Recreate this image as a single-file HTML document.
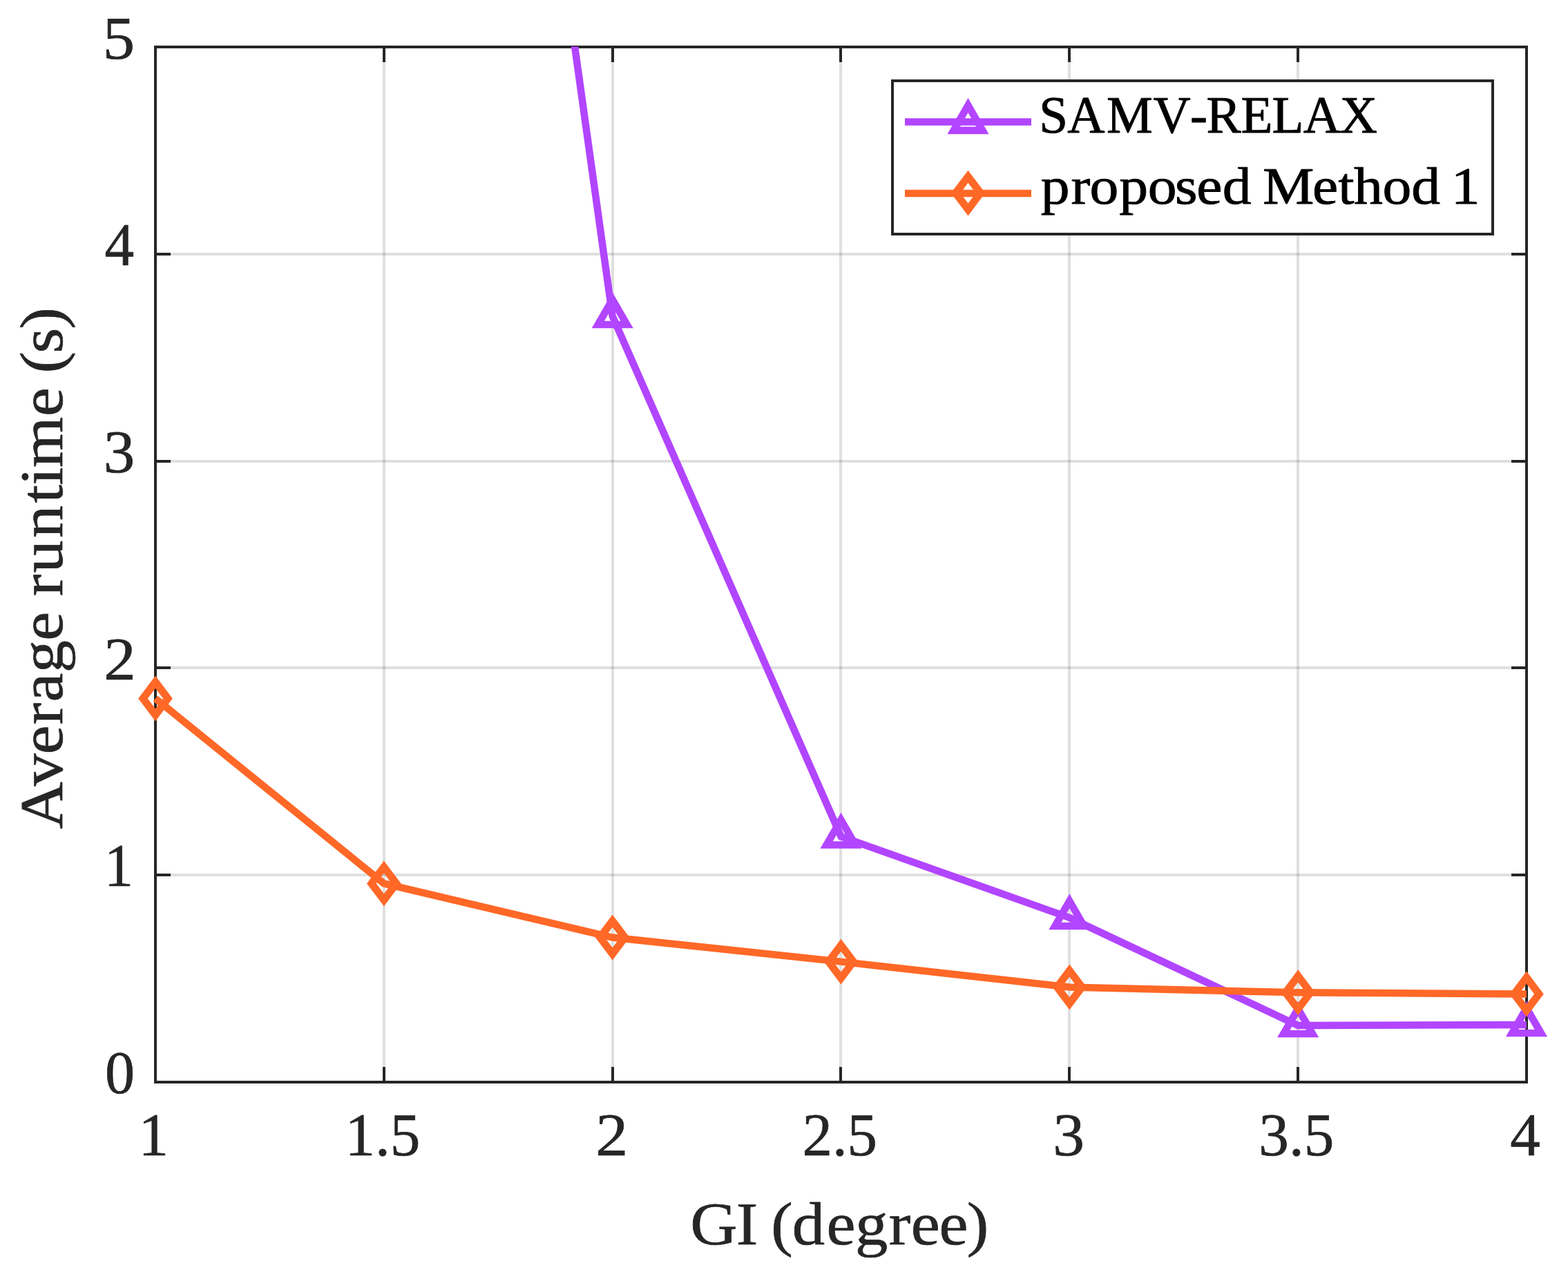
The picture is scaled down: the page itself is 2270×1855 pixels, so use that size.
<!DOCTYPE html>
<html lang="en"><head><meta charset="utf-8"><title>Average runtime vs GI</title>
<style>html,body{margin:0;padding:0;background:#fff}body{width:2270px;height:1855px;overflow:hidden}svg{display:block}</style></head>
<body>
<svg width="2270" height="1855" viewBox="0 0 2270 1855" style="display:block">
<rect width="2270" height="1855" fill="#fff"/>
<g fill="#262626" fill-opacity="0.15" shape-rendering="crispEdges">
<rect x="554" y="68" width="4" height="1499"/>
<rect x="885" y="68" width="4" height="1499"/>
<rect x="1215" y="68" width="4" height="1499"/>
<rect x="1546" y="68" width="4" height="1499"/>
<rect x="1877" y="68" width="4" height="1499"/>
<rect x="225" y="366" width="1985" height="4"/>
<rect x="225" y="666" width="1985" height="4"/>
<rect x="225" y="965" width="1985" height="4"/>
<rect x="225" y="1265" width="1985" height="4"/>
</g>
<g fill="#262626" shape-rendering="crispEdges">
<rect x="223" y="66" width="1989" height="4"/>
<rect x="223" y="1565" width="1989" height="4"/>
<rect x="223" y="66" width="4" height="1503"/>
<rect x="2208" y="66" width="4" height="1503"/>
<rect x="554" y="1545" width="4" height="22"/>
<rect x="554" y="68" width="4" height="22"/>
<rect x="885" y="1545" width="4" height="22"/>
<rect x="885" y="68" width="4" height="22"/>
<rect x="1215" y="1545" width="4" height="22"/>
<rect x="1215" y="68" width="4" height="22"/>
<rect x="1546" y="1545" width="4" height="22"/>
<rect x="1546" y="68" width="4" height="22"/>
<rect x="1877" y="1545" width="4" height="22"/>
<rect x="1877" y="68" width="4" height="22"/>
<rect x="225" y="366" width="22" height="4"/>
<rect x="2188" y="366" width="22" height="4"/>
<rect x="225" y="666" width="22" height="4"/>
<rect x="2188" y="666" width="22" height="4"/>
<rect x="225" y="965" width="22" height="4"/>
<rect x="2188" y="965" width="22" height="4"/>
<rect x="225" y="1265" width="22" height="4"/>
<rect x="2188" y="1265" width="22" height="4"/>
</g>
<defs><clipPath id="cp"><rect x="0" y="67.5" width="2270" height="1800"/></clipPath></defs>
<g fill="none" stroke="#B245FF" stroke-linejoin="miter" stroke-miterlimit="10" stroke-linecap="butt">
<polyline stroke-width="10.5" points="817.06,-40.00 886.67,457.90 1217.50,1211.40 1548.33,1328.90 1879.17,1484.90 2210.00,1484.00" clip-path="url(#cp)"/>
<path stroke-width="10.6" d="M886.67 433.80L907.54 469.95L865.80 469.95Z M1217.50 1187.30L1238.37 1223.45L1196.63 1223.45Z M1548.33 1304.80L1569.20 1340.95L1527.46 1340.95Z M1879.17 1460.80L1900.04 1496.95L1858.30 1496.95Z M2210.00 1459.90L2230.87 1496.05L2189.13 1496.05Z"/>
</g>
<g fill="none" stroke="#FF6827" stroke-linejoin="miter" stroke-miterlimit="10" stroke-linecap="butt">
<polyline stroke-width="10.5" points="225.00,1011.50 555.83,1279.40 886.67,1357.50 1217.50,1392.60 1548.33,1429.40 1879.17,1437.30 2210.00,1439.40"/>
<path stroke-width="10.9" d="M225.00 987.60L243.00 1011.50L225.00 1035.40L207.00 1011.50Z M555.83 1255.50L573.83 1279.40L555.83 1303.30L537.83 1279.40Z M886.67 1333.60L904.67 1357.50L886.67 1381.40L868.67 1357.50Z M1217.50 1368.70L1235.50 1392.60L1217.50 1416.50L1199.50 1392.60Z M1548.33 1405.50L1566.33 1429.40L1548.33 1453.30L1530.33 1429.40Z M1879.17 1413.40L1897.17 1437.30L1879.17 1461.20L1861.17 1437.30Z M2210.00 1415.50L2228.00 1439.40L2210.00 1463.30L2192.00 1439.40Z"/>
</g>
<rect x="1292" y="117" width="869" height="222" fill="#fff" stroke="#262626" stroke-width="4" shape-rendering="crispEdges"/>
<g fill="none" stroke="#B245FF" stroke-miterlimit="10"><path stroke-width="10.5" d="M1310 176.5H1493"/><path stroke-width="10.6" d="M1401.50 152.70L1422.37 188.85L1380.63 188.85Z"/></g>
<g fill="none" stroke="#FF6827" stroke-miterlimit="10"><path stroke-width="10.5" d="M1310 280H1493"/><path stroke-width="10.9" d="M1401.50 255.70L1419.50 279.60L1401.50 303.50L1383.50 279.60Z"/></g>
<g font-family="'Liberation Serif', serif" text-rendering="geometricPrecision">
<text transform="matrix(0.92687 0 0 0.88000 148.74 85)" font-size="100" fill="#262626" stroke="#262626" stroke-width="0.795" stroke-linejoin="round">5</text>
<text transform="matrix(0.85316 0 0 0.88000 151.43 384)" font-size="100" fill="#262626" stroke="#262626" stroke-width="0.795" stroke-linejoin="round">4</text>
<text transform="matrix(0.90877 0 0 0.88000 149.87 684)" font-size="100" fill="#262626" stroke="#262626" stroke-width="0.795" stroke-linejoin="round">3</text>
<text transform="matrix(0.93013 0 0 0.88000 150.16 984)" font-size="100" fill="#262626" stroke="#262626" stroke-width="0.795" stroke-linejoin="round">2</text>
<text transform="matrix(0.83811 0 0 0.88000 150.88 1283)" font-size="100" fill="#262626" stroke="#262626" stroke-width="0.795" stroke-linejoin="round">1</text>
<text transform="matrix(0.86141 0 0 0.88000 151.96 1583)" font-size="100" fill="#262626" stroke="#262626" stroke-width="0.795" stroke-linejoin="round">0</text>
<text transform="matrix(0.87221 0 0 0.88000 200.48 1673)" font-size="100" fill="#262626" stroke="#262626" stroke-width="0.795" stroke-linejoin="round">1</text>
<text transform="matrix(0.87274 0 0 0.88000 499.38 1673)" font-size="100" fill="#262626" stroke="#262626" stroke-width="0.795" stroke-linejoin="round">1.5</text>
<text transform="matrix(0.94010 0 0 0.88000 862.22 1673)" font-size="100" fill="#262626" stroke="#262626" stroke-width="0.795" stroke-linejoin="round">2</text>
<text transform="matrix(0.86901 0 0 0.88000 1161.43 1673)" font-size="100" fill="#262626" stroke="#262626" stroke-width="0.795" stroke-linejoin="round">2.5</text>
<text transform="matrix(0.91604 0 0 0.88000 1524.14 1673)" font-size="100" fill="#262626" stroke="#262626" stroke-width="0.795" stroke-linejoin="round">3</text>
<text transform="matrix(0.87213 0 0 0.88000 1822.35 1673)" font-size="100" fill="#262626" stroke="#262626" stroke-width="0.795" stroke-linejoin="round">3.5</text>
<text transform="matrix(0.87145 0 0 0.88000 2186.35 1673)" font-size="100" fill="#262626" stroke="#262626" stroke-width="0.795" stroke-linejoin="round">4</text>
<text transform="matrix(0.94655 0 0 0.88000 0 1802)" x="1055.8 1126.0 1159.3 1179.2 1211.4 1264.2 1308.0 1359.4 1393.3 1436.4 1478.7" y="0" font-size="100" fill="#262626" stroke="#262626" stroke-width="0.80" stroke-linejoin="round" xml:space="preserve">GI (degree)</text>
<text transform="matrix(0 -0.94239 0.88000 0 90 0)" x="-1273.7 -1207.8 -1158.9 -1113.4 -1078.6 -1033.8 -984.4 -940.0 -916.0 -880.2 -826.5 -772.9 -745.6 -718.3 -639.9 -595.6 -573.5 -542.7 -505.5" y="0" font-size="100" fill="#262626" stroke="#262626" stroke-width="0.80" stroke-linejoin="round" xml:space="preserve">Average runtime (s)</text>
<text transform="matrix(0.75057 0 0 0.76000 0 192)" x="2004.1 2058.9 2134.4 2224.2 2295.6 2327.0 2393.5 2453.5 2513.8 2584.5" y="0" font-size="100" fill="#000" stroke="#000" stroke-width="1.18" stroke-linejoin="round" xml:space="preserve">SAMV-RELAX</text>
<text transform="matrix(0.83730 0 0 0.76000 0 295)" x="1799.6 1851.8 1883.9 1935.1 1984.7 2031.6 2068.8 2113.5 2163.5 2183.3 2269.1 2313.6 2340.9 2390.4 2440.2 2490.2 2509.1" y="0" font-size="100" fill="#000" stroke="#000" stroke-width="1.18" stroke-linejoin="round" xml:space="preserve">proposed Method 1</text>
</g>
</svg>
</body></html>
